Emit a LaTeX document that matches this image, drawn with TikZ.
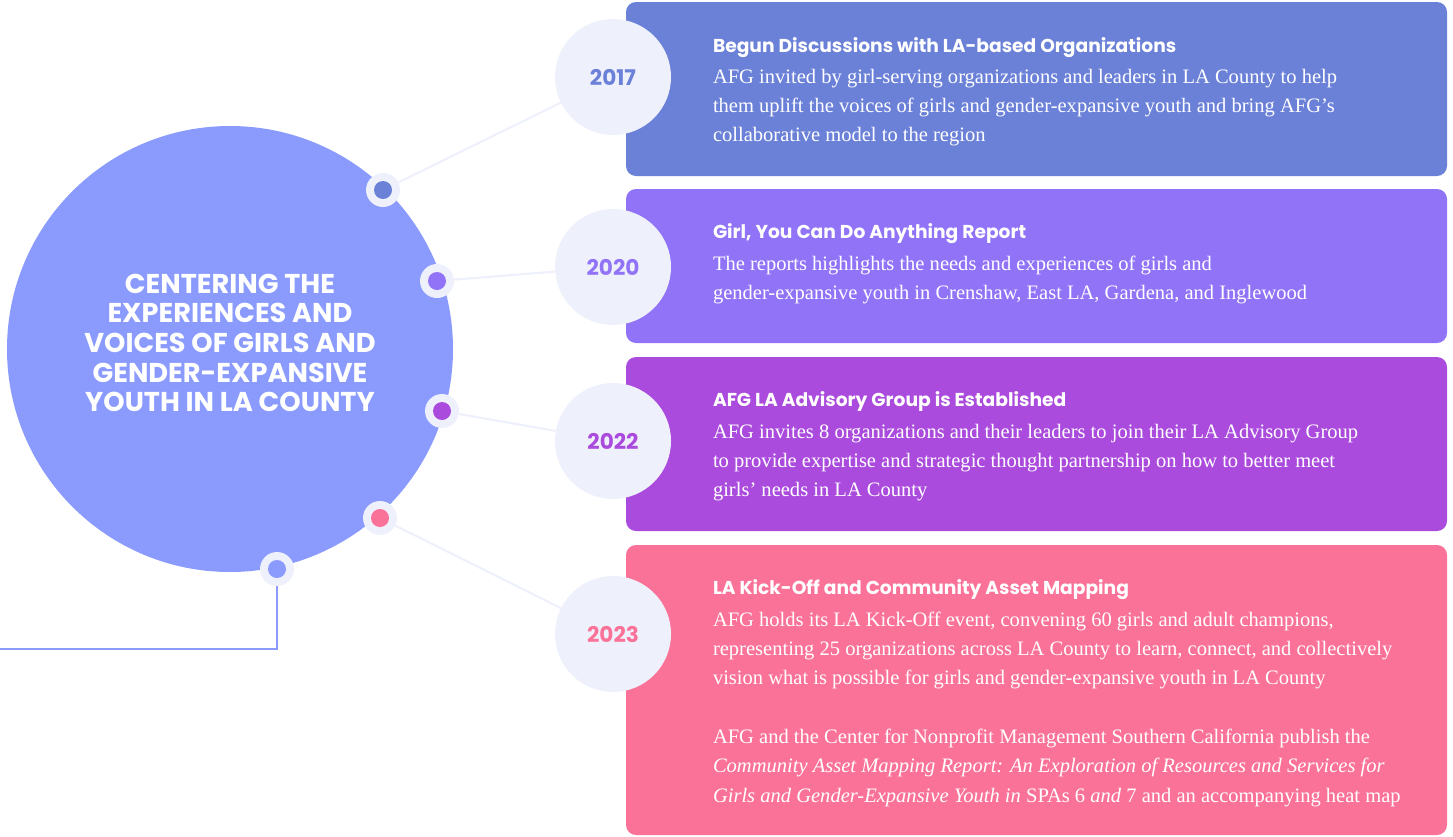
\documentclass[tikz,border=0pt]{standalone}
\usepackage{fontspec}
\setmainfont{Liberation Serif}
\setsansfont{Poppins}
\usetikzlibrary{positioning}
\usepackage{xcolor}
\definecolor{hubblue}{HTML}{8A9BFD}
\definecolor{paleblue}{HTML}{EEF0FC}
\definecolor{c2017}{HTML}{6B81D8}
\definecolor{c2020}{HTML}{9173F7}
\definecolor{c2022}{HTML}{AA4BDD}
\definecolor{c2023}{HTML}{FB7298}

\begin{document}
\begin{tikzpicture}[x=0.75pt, y=-0.75pt,
        every node/.style={inner sep=0pt, outer sep=0pt},
        yearbubble/.style={circle, fill=paleblue, minimum size=87pt, font=\sffamily\bfseries\fontsize{16.2}{16}\selectfont},
        ring/.style={circle, fill=paleblue, minimum size=25.5pt},
        pin/.style={circle, minimum size=13.5pt},
        link/.style={paleblue, line width=1.6pt},
        heading/.style={anchor=base west, text=white, font=\sffamily\bfseries\fontsize{14}{16}\selectfont},
        body/.style={anchor=base west, text=white, font=\fontsize{15.4}{22}\selectfont}
    ]
        \useasboundingbox (0,0) rectangle (1453,836);

        % coloured cards on the right
        \fill[c2017, rounded corners=7.5pt] (626,2) rectangle (1447,176);
        \fill[c2020, rounded corners=7.5pt] (626,189) rectangle (1447,343);
        \fill[c2022, rounded corners=7.5pt] (626,357) rectangle (1447,531);
        \fill[c2023, rounded corners=7.5pt] (626,545) rectangle (1447,835);

        % big hub circle with its title
        \node[circle, fill=hubblue, minimum size=334.5pt] (hub) at (230,349) {};
        \node[align=center, text=white, font=\sffamily\bfseries\fontsize{20.4}{22.2}\selectfont] (hubtitle) at (230,343)
            {CENTERING THE\\EXPERIENCES AND\\VOICES OF GIRLS AND\\GENDER-EXPANSIVE\\YOUTH IN LA COUNTY};

        % year bubbles
        \node[yearbubble, text=c2017] (y2017) at (613,77) {2017};
        \node[yearbubble, text=c2020] (y2020) at (613,267) {2020};
        \node[yearbubble, text=c2022] (y2022) at (613,441) {2022};
        \node[yearbubble, text=c2023] (y2023) at (613,634) {2023};

        % pins on the rim of the hub
        \node[ring] (d2017) at (383,190) {};
        \node[ring] (d2020) at (437,281) {};
        \node[ring] (d2022) at (442,411) {};
        \node[ring] (d2023) at (380,518) {};
        \node[ring] (dlead) at (277,569) {};
        \node[pin, fill=c2017] at (d2017) {};
        \node[pin, fill=c2020] at (d2020) {};
        \node[pin, fill=c2022] at (d2022) {};
        \node[pin, fill=c2023] at (d2023) {};
        \node[pin, fill=hubblue] at (dlead) {};

        % spokes from pins to years
        \draw[link] (d2017) -- (y2017);
        \draw[link] (d2020) -- (y2020);
        \draw[link] (d2022) -- (y2022);
        \draw[link] (d2023) -- (y2023);

        % lead line leaving to the left
        \coordinate (elbow) at (277,649);
        \coordinate (exit) at (0,649);
        \draw[hubblue, line width=1.9pt] (dlead.south) -- (elbow) -- (exit);

        % 2017
        \node[heading] (h2017) at (713,52) {Begun Discussions with LA-based Organizations};
        \node[body] (b2017) at (713,83) {\begin{tabular}[t]{@{}l@{}}
            AFG invited by girl-serving organizations and leaders in LA County to help\\
            them uplift the voices of girls and gender-expansive youth and bring AFG’s\\
            collaborative model to the region\end{tabular}};

        % 2020
        \node[heading] (h2020) at (713,238) {Girl, You Can Do Anything Report};
        \node[body] (b2020) at (713,270) {\begin{tabular}[t]{@{}l@{}}
            The reports highlights the needs and experiences of girls and\\
            gender-expansive youth in Crenshaw, East LA, Gardena, and Inglewood\end{tabular}};

        % 2022
        \node[heading] (h2022) at (713,406) {AFG LA Advisory Group is Established};
        \node[body] (b2022) at (713,438) {\begin{tabular}[t]{@{}l@{}}
            AFG invites 8 organizations and their leaders to join their LA Advisory Group\\
            to provide expertise and strategic thought partnership on how to better meet\\
            girls’ needs in LA County\end{tabular}};

        % 2023
        \node[heading] (h2023) at (713,594) {LA Kick-Off and Community Asset Mapping};
        \node[body] (b2023) at (713,626) {\begin{tabular}[t]{@{}l@{}}
            AFG holds its LA Kick-Off event, convening 60 girls and adult champions,\\
            representing 25 organizations across LA County to learn, connect, and collectively\\
            vision what is possible for girls and gender-expansive youth in LA County\\
            \\
            AFG and the Center for Nonprofit Management Southern California publish the\\
            \textit{Community Asset Mapping Report: An Exploration of Resources and Services for}\\
            \textit{Girls and Gender-Expansive Youth in} SPAs 6 \textit{and} 7 and an accompanying heat map\end{tabular}};

    \end{tikzpicture}
\end{document}
